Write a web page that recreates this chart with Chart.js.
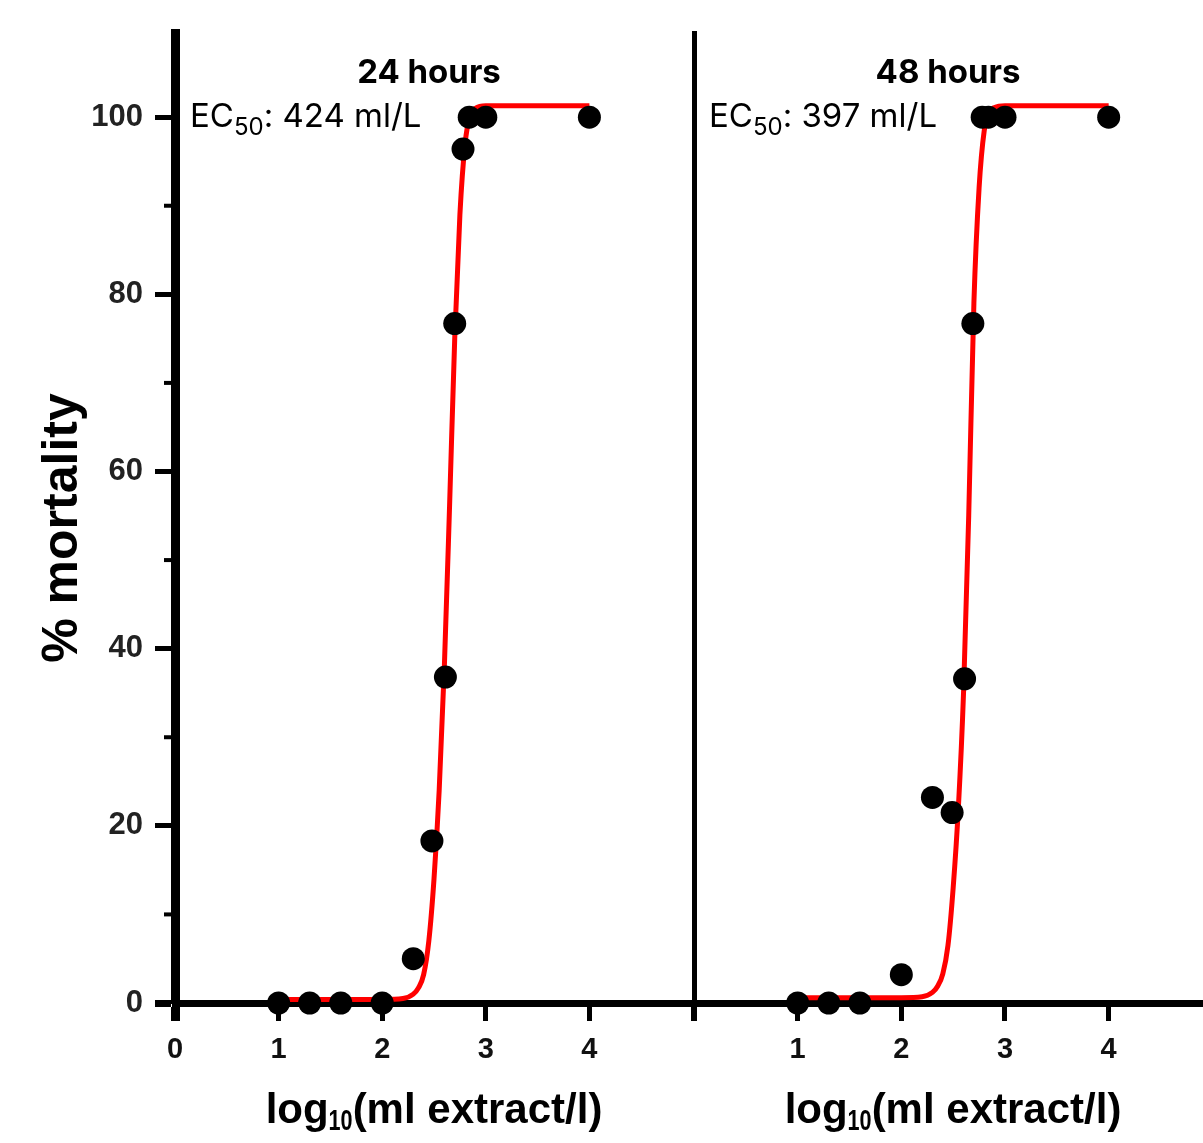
<!DOCTYPE html>
<html>
<head>
<meta charset="utf-8">
<title>% mortality, 24 and 48 hours</title>
<script src="https://cdn.jsdelivr.net/npm/chart.js@4.4.1/dist/chart.umd.min.js"></script>
<style>
  html, body { margin: 0; padding: 0; background: #fff; }
  #wrap { position: relative; width: 1203px; height: 1143px; overflow: hidden; }
  canvas { position: absolute; top: 0; }
  #left { left: 0; }
  #right { left: 690px; }
</style>
</head>
<body>
<div id="wrap">
  <canvas id="left" width="700" height="1143"></canvas>
  <canvas id="right" width="513" height="1143"></canvas>
</div>
<script>
// observed points, 24 h
const dose24 = [1, 1.3, 1.6, 2, 2.3, 2.48, 2.61, 2.7, 2.78, 2.84, 3, 4];
const mort24 = [0, 0, 0, 0, 5, 18.3, 36.8, 76.7, 96.4, 100, 100, 100];
// observed points, 48 h
const dose48 = [1, 1.3, 1.6, 2, 2.3, 2.49, 2.61, 2.69, 2.78, 2.84, 3, 4];
const mort48 = [0, 0, 0, 3.2, 23.2, 21.5, 36.6, 76.7, 100, 100, 100, 100];

// fitted curves
const fitX = [1, 1.5, 2, 2.2, 2.3, 2.35, 2.4, 2.45, 2.5, 2.55, 2.6, 2.65, 2.7, 2.75, 2.8, 2.85, 2.9, 3, 3.5, 4];
const fit24 = [0.4, 0.4, 0.4, 0.5, 1.0, 1.7, 3.2, 7, 14, 24, 38, 56, 75, 89, 97, 100.3, 101, 101.3, 101.3, 101.3];
const fit48 = [0.6, 0.6, 0.6, 0.7, 1.2, 1.9, 3.3, 6.5, 13, 22, 35, 55, 79, 92, 98.5, 100.6, 101.1, 101.3, 101.3, 101.3];

// axes
const yTicks = [0, 20, 40, 60, 80, 100];
const yTickLabels = ['0', '20', '40', '60', '80', '100'];
const yMinor = [10, 30, 50, 70, 90];
const xTicks24 = [0, 1, 2, 3, 4, 5];
const xTickLabels24 = ['0', '1', '2', '3', '4', ''];
const xTicks48 = [0, 1, 2, 3, 4];
const xTickLabels48 = ['', '1', '2', '3', '4'];

const panelTitles = ['24 hours', '48 hours'];
const ec50Values = ['424', '397'];

Chart.defaults.font.family = "'Liberation Sans', Arial, sans-serif";
Chart.defaults.color = '#000';

// draws a run of text pieces (for the subscripts)
function drawRun(ctx, parts, x, y, align) {
    let total = 0;
    parts.forEach(p => {
        ctx.font = p.font;
        p.w = ctx.measureText(p.t).width * (p.sx || 1);
        total += p.w;
    });
    let cx = align === 'center' ? x - total / 2 : x;
    ctx.textAlign = 'left';
    ctx.textBaseline = 'alphabetic';
    parts.forEach(p => {
        ctx.save();
        ctx.font = p.font;
        ctx.translate(cx, y + (p.dy || 0));
        ctx.scale(p.sx || 1, 1);
        ctx.fillText(p.t, 0, 0);
        ctx.restore();
        cx += p.w;
    });
}

function textPlugin(title, ec50, withYAxis) {
    return {
        id: 'panelText',
        afterDraw(chart) {
            const ctx = chart.ctx;
            const area = chart.chartArea;
            const ys = chart.scales.y;
            ctx.save();
            ctx.fillStyle = '#000';
            ctx.strokeStyle = '#000';

            if (withYAxis) {
                // minor ticks
                ctx.lineWidth = 4;
                yMinor.forEach(v => {
                    const py = ys.getPixelForValue(v);
                    ctx.beginPath();
                    ctx.moveTo(area.left - 11, py);
                    ctx.lineTo(area.left, py);
                    ctx.stroke();
                });
                // y title
                ctx.save();
                ctx.translate(63, 528);
                ctx.rotate(-Math.PI / 2);
                ctx.font = "bold 50px 'Liberation Sans', Arial, sans-serif";
                ctx.textAlign = 'center';
                ctx.textBaseline = 'middle';
                ctx.fillText('% mortality', 0, 0);
                ctx.restore();
            }

            // panel title
            ctx.font = "bold 33px Inter, 'Liberation Sans', sans-serif";
            ctx.textAlign = 'center';
            ctx.textBaseline = 'alphabetic';
            ctx.fillText(title, area.left + 254, 83);

            // EC50 label
            drawRun(ctx, [
                { t: 'EC', font: "33px Inter, 'Liberation Sans', sans-serif" },
                { t: '50', font: "24px Inter, 'Liberation Sans', sans-serif", dy: 8 },
                { t: ': ' + ec50 + ' ml/L', font: "33px Inter, 'Liberation Sans', sans-serif" }
            ], area.left + 15, 127, 'left');

            // x title
            drawRun(ctx, [
                { t: 'log', font: "bold 42px 'Liberation Sans', Arial, sans-serif" },
                { t: '10', font: "bold 30px 'Liberation Sans', Arial, sans-serif", dy: 7, sx: 0.72 },
                { t: '(ml extract/l)', font: "bold 42px 'Liberation Sans', Arial, sans-serif" }
            ], area.left + 259, 1123, 'center');

            ctx.restore();
        }
    };
}

function makePanel(canvasId, dose, mort, fit, opts) {
    const ctx = document.getElementById(canvasId).getContext('2d');
    return new Chart(ctx, {
        type: 'scatter',
        data: {
            datasets: [{
                label: 'observed',
                data: dose.map((x, i) => ({ x: x, y: mort[i] })),
                showLine: false,
                pointRadius: 11.5,
                pointBackgroundColor: '#000',
                pointBorderWidth: 0,
                clip: false,
                order: 0
            }, {
                label: 'fit',
                data: fitX.map((x, i) => ({ x: x, y: fit[i] })),
                showLine: true,
                pointRadius: 0,
                borderColor: '#ff0000',
                borderWidth: 5,
                cubicInterpolationMode: 'monotone',
                clip: false,
                order: 1
            }]
        },
        options: {
            responsive: false,
            animation: false,
            devicePixelRatio: 1,
            layout: { padding: opts.padding, autoPadding: false },
            plugins: {
                legend: { display: false },
                tooltip: { enabled: false }
            },
            scales: {
                x: {
                    type: 'linear',
                    min: 0,
                    max: opts.xMax,
                    afterBuildTicks: s => { s.ticks = opts.xTicks.map(v => ({ value: v })); },
                    afterFit: s => {
                        s.height = 140;
                        // ticks sit right on the panel edges, no extra room needed
                        s.paddingLeft = 0;
                        s.paddingRight = 0;
                    },
                    ticks: {
                        autoSkip: false,
                        maxRotation: 0,
                        padding: 12,
                        color: '#111',
                        font: { size: 29, weight: 'bold' },
                        callback: (v, i) => opts.xLabels[i]
                    },
                    grid: {
                        drawOnChartArea: false,
                        tickLength: 18,
                        tickColor: '#000',
                        tickWidth: c => (c.index === 0 && opts.yLabels ? 9 : 5)
                    },
                    border: { width: 7, color: '#000' }
                },
                y: {
                    type: 'linear',
                    min: 0,
                    max: 109.5,
                    afterBuildTicks: s => { s.ticks = yTicks.map(v => ({ value: v })); },
                    afterFit: s => {
                        s.width = opts.yWidth;
                        s.paddingTop = 0;
                        s.paddingBottom = 0;
                    },
                    ticks: {
                        display: !!opts.yLabels,
                        padding: 12,
                        color: '#222',
                        font: { size: 31, weight: 'bold' },
                        callback: (v, i) => yTickLabels[i]
                    },
                    grid: {
                        drawOnChartArea: false,
                        drawTicks: !!opts.yLabels,
                        tickLength: 20,
                        tickColor: '#000',
                        tickWidth: c => (c.index === 0 ? 7 : 5)
                    },
                    border: { width: opts.yBorder, color: '#000' }
                }
            }
        },
        plugins: [textPlugin(opts.title, opts.ec50, !!opts.yLabels)]
    });
}

makePanel('left', dose24, mort24, fit24, {
    padding: { top: 33, right: 7, left: 0, bottom: 0 },
    xMax: 5,
    xTicks: xTicks24,
    xLabels: xTickLabels24,
    yLabels: true,
    yWidth: 175,
    yBorder: 9,
    title: panelTitles[0],
    ec50: ec50Values[0]
});

makePanel('right', dose48, mort48, fit48, {
    padding: { top: 33, right: 0, left: 0, bottom: 0 },
    xMax: 4.91,
    xTicks: xTicks48,
    xLabels: xTickLabels48,
    yLabels: false,
    yWidth: 4,
    yBorder: 5,
    title: panelTitles[1],
    ec50: ec50Values[1]
});
</script>
</body>
</html>
